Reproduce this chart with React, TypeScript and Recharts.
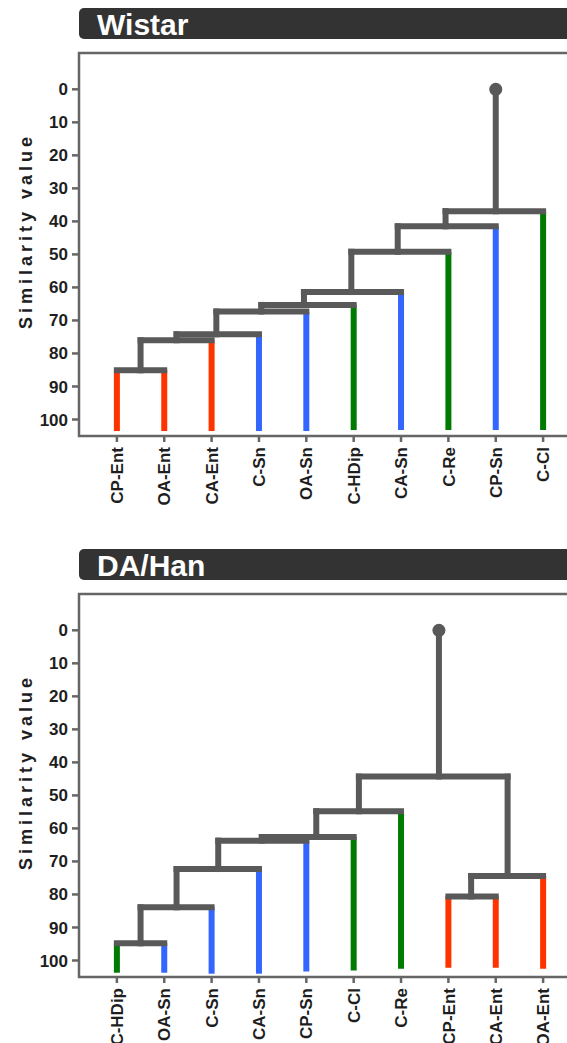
import React from 'react';
import {
  ComposedChart,
  XAxis,
  YAxis,
  ReferenceLine,
  ReferenceDot,
  ReferenceArea,
} from 'recharts';

// Wistar: leaf order along the x axis, bottom of each leaf, and the merges
const wistarLeaves = ['CP-Ent', 'OA-Ent', 'CA-Ent', 'C-Sn', 'OA-Sn', 'C-HDip', 'CA-Sn', 'C-Re', 'CP-Sn', 'C-Cl'];
const wistarLeafBase = [103.5, 103.5, 103.5, 103.5, 103.5, 103.2, 103.2, 103.2, 103.2, 103.2];
const wistarMergeLeft = ['CP-Ent', 'm1', 'm2', 'm3', 'm4', 'm5', 'm6', 'm7', 'm8'];
const wistarMergeRight = ['OA-Ent', 'CA-Ent', 'C-Sn', 'OA-Sn', 'C-HDip', 'CA-Sn', 'C-Re', 'CP-Sn', 'C-Cl'];
const wistarMergeSim = [85.1, 76.0, 74.2, 67.3, 65.3, 61.4, 49.2, 41.5, 36.9];
const wistarMergePos = [0.5, 1.26, 2.1, 3.05, 3.95, 4.95, 5.93, 6.94, 8.0];

// DA/Han
const hanLeaves = ['C-HDip', 'OA-Sn', 'C-Sn', 'CA-Sn', 'CP-Sn', 'C-Cl', 'C-Re', 'CP-Ent', 'CA-Ent', 'OA-Ent'];
const hanLeafBase = [103.7, 103.7, 104, 104, 103.3, 103, 102.5, 102.2, 102.2, 102.5];
const hanMergeLeft = ['C-HDip', 'm1', 'm2', 'm3', 'm4', 'm5', 'CP-Ent', 'm7', 'm6'];
const hanMergeRight = ['OA-Sn', 'C-Sn', 'CA-Sn', 'CP-Sn', 'C-Cl', 'C-Re', 'CA-Ent', 'OA-Ent', 'm8'];
const hanMergeSim = [94.8, 83.9, 72.3, 63.7, 62.6, 54.8, 80.6, 74.4, 44.3];
const hanMergePos = [0.5, 1.26, 2.14, 3.06, 4.21, 5.11, 7.48, 8.25, 6.8];

const yTicks = [0, 10, 20, 30, 40, 50, 60, 70, 80, 90, 100];
const rootTop = 0;

const FONT = '"Liberation Sans", Arial, Helvetica, sans-serif';
const LINK = '#595959';
const FRAME = '#666666';
const X_DOMAIN: [number, number] = [-0.8, 9.8];
const Y_DOMAIN: [number, number] = [-11, 105];

const leafColor = (name: string) => {
  if (name.endsWith('Ent')) return '#ff3300';
  if (name.endsWith('Sn')) return '#3366ff';
  return '#007a00';
};

type Seg = { x1: number; y1: number; x2: number; y2: number; color: string };

function buildTree(
  leaves: string[],
  base: number[],
  left: string[],
  right: string[],
  sim: number[],
  pos: number[]
) {
  const nodes: Record<string, { x: number; y: number; leaf: boolean }> = {};
  leaves.forEach((name, i) => {
    nodes[name] = { x: i, y: base[i], leaf: true };
  });
  sim.forEach((s, i) => {
    nodes['m' + (i + 1)] = { x: pos[i], y: s, leaf: false };
  });

  const leafSegs: Seg[] = [];
  const links: Seg[] = [];
  const used = new Set<string>();

  sim.forEach((s, i) => {
    const a = nodes[left[i]];
    const b = nodes[right[i]];
    used.add(left[i]);
    used.add(right[i]);
    [a, b].forEach((c, k) => {
      const name = k === 0 ? left[i] : right[i];
      const seg = { x1: c.x, y1: c.y, x2: c.x, y2: s, color: c.leaf ? leafColor(name) : LINK };
      (c.leaf ? leafSegs : links).push(seg);
    });
    links.push({ x1: a.x, y1: s, x2: b.x, y2: s, color: LINK });
  });

  // the merge that is nobody's child is the root
  const rootId = sim.map((_, i) => 'm' + (i + 1)).find((id) => !used.has(id)) as string;
  const root = nodes[rootId];
  links.push({ x1: root.x, y1: root.y, x2: root.x, y2: rootTop, color: LINK });

  return { leafSegs, links, root };
}

const LeafTick = (props: any) => {
  const { x, y, payload, names } = props;
  return (
    <g transform={`translate(${x},${y})`}>
      <text
        transform="rotate(-90)"
        textAnchor="end"
        dx={-3}
        dy="0.36em"
        fontSize={17}
        fontWeight="bold"
        fill="#1e1e1e"
        fontFamily={FONT}
      >
        {names[payload.value]}
      </text>
    </g>
  );
};

const yLabel = () => (
  <text
    x={26}
    y={231}
    transform="rotate(-90, 26, 231)"
    textAnchor="middle"
    dominantBaseline="central"
    fontSize={18}
    fontWeight="bold"
    letterSpacing={4}
    fill="#1e1e1e"
    fontFamily={FONT}
  >
    Similarity value
  </text>
);

type PanelProps = {
  top: number;
  title: string;
  leaves: string[];
  base: number[];
  left: string[];
  right: string[];
  sim: number[];
  pos: number[];
};

const Dendrogram = ({ top, title, leaves, base, left, right, sim, pos }: PanelProps) => {
  const { leafSegs, links, root } = buildTree(leaves, base, left, right, sim, pos);
  const rows = leaves.map((_, i) => ({ pos: i }));

  return (
    <div style={{ position: 'absolute', left: 0, top, width: 581, height: 540 }}>
      <div
        style={{
          position: 'absolute',
          left: 79,
          top: 8,
          width: 520,
          height: 31,
          background: '#333333',
          borderRadius: '5px 0 0 5px',
          color: '#ffffff',
          fontFamily: FONT,
          fontWeight: 'bold',
          fontSize: 30,
          lineHeight: '33px',
          paddingLeft: 18,
          boxSizing: 'border-box',
        }}
      >
        {title}
      </div>
      <ComposedChart
        width={581}
        height={540}
        data={rows}
        margin={{ top: 53, right: 0, bottom: 0, left: 0 }}
      >
        <XAxis
          dataKey="pos"
          type="number"
          domain={X_DOMAIN}
          allowDataOverflow
          ticks={leaves.map((_, i) => i)}
          interval={0}
          height={104}
          axisLine={false}
          tickSize={6}
          tickLine={{ stroke: FRAME, strokeWidth: 2.5 }}
          tick={(p: any) => <LeafTick {...p} names={leaves} />}
        />
        <YAxis
          type="number"
          domain={Y_DOMAIN}
          reversed
          allowDataOverflow
          ticks={yTicks}
          interval={0}
          width={79}
          axisLine={false}
          tickSize={7}
          tickMargin={4}
          tickLine={{ stroke: FRAME, strokeWidth: 2.5 }}
          tick={{ fontSize: 17, fontWeight: 'bold', fill: '#1e1e1e', fontFamily: FONT }}
          label={yLabel}
        />
        <ReferenceArea
          x1={X_DOMAIN[0]}
          x2={X_DOMAIN[1]}
          y1={Y_DOMAIN[0]}
          y2={Y_DOMAIN[1]}
          fill="none"
          fillOpacity={0}
          stroke={FRAME}
          strokeWidth={2.5}
          ifOverflow="visible"
        />
        {leafSegs.map((s, i) => (
          <ReferenceLine
            key={'leaf' + i}
            segment={[{ x: s.x1, y: s.y1 }, { x: s.x2, y: s.y2 }]}
            stroke={s.color}
            strokeWidth={6}
            ifOverflow="visible"
          />
        ))}
        {links.map((s, i) => (
          <ReferenceLine
            key={'link' + i}
            segment={[{ x: s.x1, y: s.y1 }, { x: s.x2, y: s.y2 }]}
            stroke={s.color}
            strokeWidth={6}
            strokeLinecap="square"
            ifOverflow="visible"
          />
        ))}
        <ReferenceDot x={root.x} y={rootTop} r={6.5} fill={LINK} stroke="none" ifOverflow="visible" />
      </ComposedChart>
    </div>
  );
};

export default function App() {
  return (
    <div
      style={{
        position: 'absolute',
        left: 0,
        top: 0,
        width: 567,
        height: 1043,
        overflow: 'hidden',
        background: '#ffffff',
      }}
    >
      <Dendrogram
        top={0}
        title="Wistar"
        leaves={wistarLeaves}
        base={wistarLeafBase}
        left={wistarMergeLeft}
        right={wistarMergeRight}
        sim={wistarMergeSim}
        pos={wistarMergePos}
      />
      <Dendrogram
        top={541}
        title="DA/Han"
        leaves={hanLeaves}
        base={hanLeafBase}
        left={hanMergeLeft}
        right={hanMergeRight}
        sim={hanMergeSim}
        pos={hanMergePos}
      />
    </div>
  );
}
